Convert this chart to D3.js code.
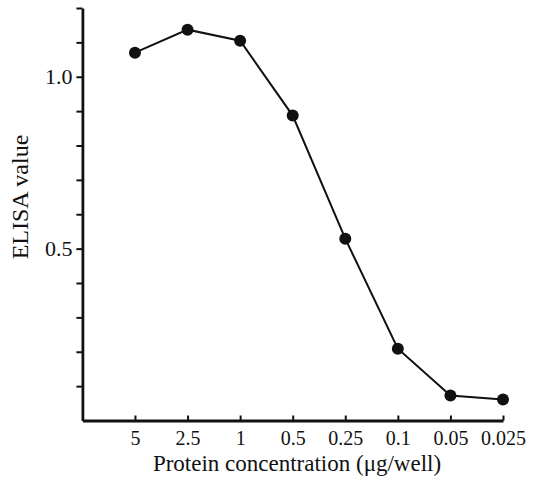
<!DOCTYPE html>
<html>
<head>
<meta charset="utf-8">
<script src="https://cdn.jsdelivr.net/npm/d3@7"></script>
<style>
body { margin: 0; background: #fff; }
svg text { font-family: "Times New Roman", "Liberation Serif", Tinos, "DejaVu Serif", serif; fill: #111; }
</style>
</head>
<body>
<script>
var width = 543
var height = 482

// data
var concentrations = ["5", "2.5", "1", "0.5", "0.25", "0.1", "0.05", "0.025"]
var elisa = [1.07, 1.137, 1.105, 0.887, 0.529, 0.209, 0.073, 0.061]
var y_ticks = [0.1, 0.2, 0.3, 0.4, 0.5, 0.6, 0.7, 0.8, 0.9, 1.0, 1.1, 1.2]
var y_labels = [0.5, 1.0]

// index -1 sits on the y axis, points are 0..7
var x = d3.scaleLinear()
.domain([-1, 7])
.range([82.4, 503])

var y = d3.scaleLinear()
.domain([0, 1.2])
.range([420.5, 8])

var svg = d3.select("body").append("svg")
.attr("width", width)
.attr("height", height)

var yAxis = svg.append("g")
.attr("transform", "translate(" + x(-1) + ",0)")
.call(d3.axisLeft(y)
    .tickValues(y_ticks)
    .tickSize(6)
    .tickSizeOuter(0)
    .tickPadding(4)
    .tickFormat(function(d) { return y_labels.some(function(v) { return Math.abs(v - d) < 1e-9 }) ? d3.format(".1f")(d) : "" }))

yAxis.attr("font-family", null)
yAxis.select(".domain").attr("stroke", "#111").attr("stroke-width", 2.8)
yAxis.selectAll(".tick line").attr("stroke", "#111").attr("stroke-width", 2)
yAxis.selectAll("text").style("font-size", "22px")

var xAxis = svg.append("g")
.attr("transform", "translate(0," + y(0) + ")")
.call(d3.axisBottom(x)
    .tickValues(d3.range(concentrations.length))
    .tickSizeInner(-5)
    .tickSizeOuter(0)
    .tickPadding(10)
    .tickFormat(function(d) { return concentrations[d] }))

xAxis.attr("font-family", null)
xAxis.select(".domain").attr("stroke", "#111").attr("stroke-width", 2.8)
xAxis.selectAll(".tick line").attr("stroke", "#111").attr("stroke-width", 2)
xAxis.selectAll("text").style("font-size", "20px")

// axis titles
svg.append("text")
.attr("x", 297)
.attr("y", 471)
.style("text-anchor", "middle")
.style("font-size", "23px")
.text("Protein concentration (\u03bcg/well)")

svg.append("text")
.attr("transform", "rotate(-90)")
.attr("x", -197)
.attr("y", 28)
.style("text-anchor", "middle")
.style("font-size", "24px")
.text("ELISA value")

var line = d3.line()
.x(function(d, i) { return x(i) })
.y(function(d) { return y(d) })

svg.append("path")
.datum(elisa)
.attr("d", line)
.attr("fill", "none")
.attr("stroke", "#111")
.attr("stroke-width", 2)

svg.append("g")
.selectAll("circle")
.data(elisa)
.enter().append("circle")
.attr("cx", function(d, i) { return x(i) })
.attr("cy", function(d) { return y(d) })
.attr("r", 6)
.style("fill", "#111")
</script>
</body>
</html>
